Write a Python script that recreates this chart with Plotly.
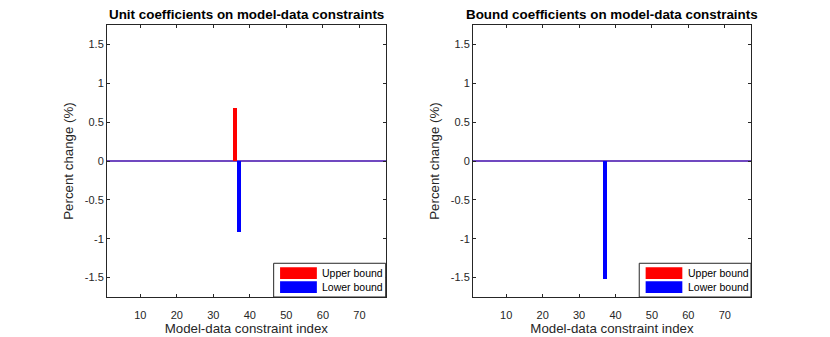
import plotly.graph_objects as go

N = 77
index = list(range(1, N + 1))

# Unit coefficients panel
unit_upper = [0.0] * N
unit_upper[35] = 0.68      # constraint 36
unit_lower = [0.0] * N
unit_lower[36] = -0.91     # constraint 37

# Bound coefficients panel
bound_upper = [0.0] * N
bound_lower = [0.0] * N
bound_lower[36] = -1.52    # constraint 37

titles = ["Unit coefficients on model-data constraints",
          "Bound coefficients on model-data constraints"]
series_names = ["Upper bound", "Lower bound"]
x_ticks = [10, 20, 30, 40, 50, 60, 70]
y_ticks = [-1.5, -1, -0.5, 0, 0.5, 1, 1.5]
y_tick_text = ["-1.5", "-1", "-0.5", "0", "0.5", "1", "1.5"]

RED = "#ff0000"
BLUE = "#0000ff"
AX = "#262626"
FONT = "Liberation Sans, Arial, sans-serif"

fig = go.Figure()

panels = [(unit_upper, unit_lower, "x", "y"), (bound_upper, bound_lower, "x2", "y2")]
for up, lo, xa, ya in panels:
    fig.add_trace(go.Bar(x=index, y=up, width=1.1, marker=dict(color=RED, line=dict(width=0)),
                         name=series_names[0], xaxis=xa, yaxis=ya, showlegend=False))
    fig.add_trace(go.Bar(x=index, y=lo, width=1.1, marker=dict(color=BLUE, line=dict(width=0)),
                         name=series_names[1], xaxis=xa, yaxis=ya, showlegend=False))

W, H = 830, 337
left_dom = [107 / W, 385.7 / W]
right_dom = [473 / W, 751 / W]
y_dom = [1 - 297 / H, 1 - 25 / H]

xcommon = dict(range=[0.88, 77.2], tickvals=x_ticks, ticks="inside", ticklen=3, tickcolor=AX,
               showline=True, linecolor=AX, linewidth=1, mirror="ticks", showgrid=False,
               zeroline=False, tickfont=dict(family=FONT, size=11, color=AX), ticklabelstandoff=8,
               title=dict(text="Model-data constraint index", font=dict(family=FONT, size=13.3, color=AX),
                          standoff=3))
ycommon = dict(range=[-1.75, 1.75], tickvals=y_ticks, ticktext=y_tick_text, ticks="inside", ticklen=3,
               tickcolor=AX, showline=True, linecolor=AX, linewidth=1, mirror="ticks", showgrid=False,
               zeroline=True, zerolinecolor="#7048c0", zerolinewidth=2,
               tickfont=dict(family=FONT, size=11, color=AX),
               title=dict(text="Percent change (%)", font=dict(family=FONT, size=13.3, color=AX),
                          standoff=8))

fig.update_layout(
    width=W, height=H, margin=dict(l=0, r=0, t=0, b=0),
    paper_bgcolor="white", plot_bgcolor="white", barmode="overlay", bargap=0,
    font=dict(family=FONT, color=AX),
    xaxis=dict(domain=left_dom, anchor="y", **xcommon),
    yaxis=dict(domain=y_dom, anchor="x", **ycommon),
    xaxis2=dict(domain=right_dom, anchor="y2", **xcommon),
    yaxis2=dict(domain=y_dom, anchor="x2", **ycommon),
)

# Titles
for dom, t in zip([left_dom, right_dom], titles):
    fig.add_annotation(x=(dom[0] + dom[1]) / 2, y=1 - 15 / H, xref="paper", yref="paper",
                       text="<b>" + t + "</b>", showarrow=False, xanchor="center", yanchor="middle",
                       font=dict(family=FONT, size=13.4, color="black"))

# Legends (MATLAB-style boxes with wide colour patches)
for xs in ["x", "x2"]:
    xr = xs + " domain"
    yr = ("y" if xs == "x" else "y2") + " domain"
    fig.add_shape(type="rect", xref=xr, yref=yr, x0=0.598, x1=1, y0=0, y1=0.124,
                  fillcolor="white", line=dict(color=AX, width=1))
    for (y0, y1, col, name, ty) in [(0.066, 0.109, RED, series_names[0], 0.0875),
                                    (0.0147, 0.0577, BLUE, series_names[1], 0.0368)]:
        fig.add_shape(type="rect", xref=xr, yref=yr, x0=0.621, x1=0.753, y0=y0, y1=y1,
                      fillcolor=col, line=dict(width=0))
        fig.add_annotation(x=0.766, y=ty, xref=xr, yref=yr, text=name, showarrow=False,
                           xanchor="left", yanchor="middle",
                           font=dict(family=FONT, size=10.5, color="black"))

fig.write_html("out.html", post_script="document.body.style.margin='0';",
               config={"displayModeBar": False})
